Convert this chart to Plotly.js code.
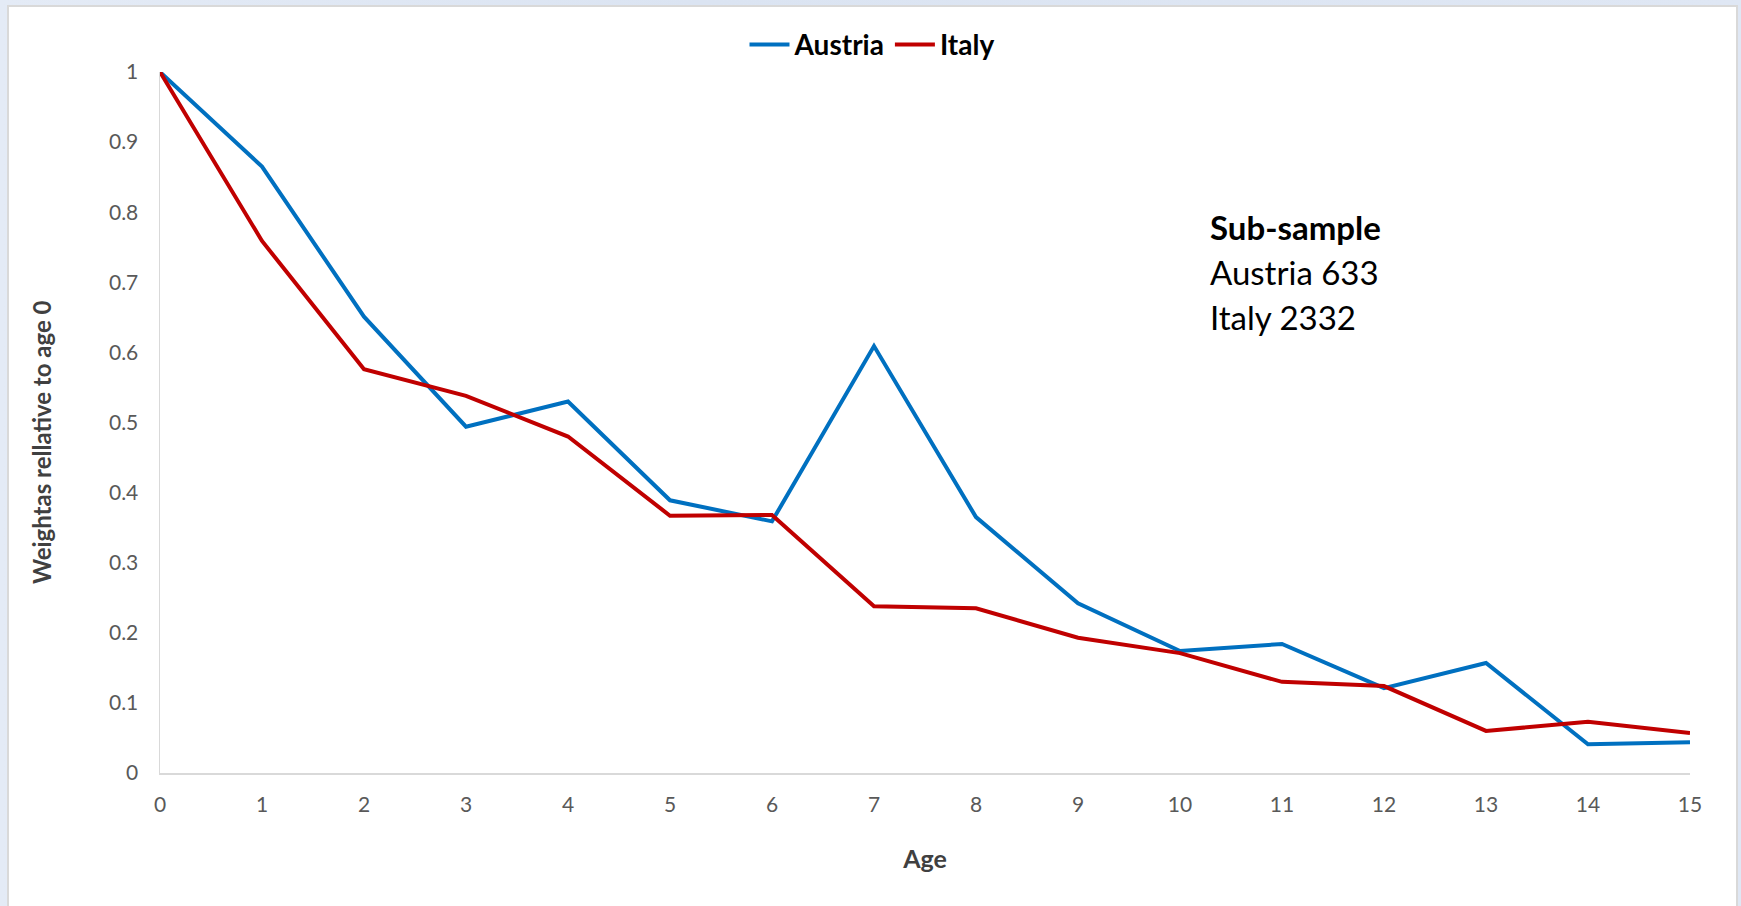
<!DOCTYPE html>
<html>
<head>
<meta charset="utf-8">
<script src="https://cdn.plot.ly/plotly-3.0.1.min.js"></script>
<style>
  html, body { margin: 0; padding: 0; width: 1741px; height: 906px; overflow: hidden;
    background: linear-gradient(90deg, #e4ebf6 0%, #dbe4f2 40%, #dfe7f4 100%); }
  #card { position: absolute; left: 7px; top: 5px; width: 1727px; height: 920px;
    border: 2px solid #d9d9d9; background: #ffffff; }
  #chart { position: absolute; left: 9px; top: 7px; width: 1726px; height: 899px; }
</style>
</head>
<body>
<div id="card"></div>
<div id="chart"></div>
<script>
const ages = [0, 1, 2, 3, 4, 5, 6, 7, 8, 9, 10, 11, 12, 13, 14, 15];
const austria = [1, 0.865, 0.651, 0.494, 0.530, 0.389, 0.359, 0.609, 0.365, 0.242, 0.174, 0.184, 0.121, 0.157, 0.041, 0.044];
const italy = [1, 0.759, 0.576, 0.538, 0.480, 0.367, 0.368, 0.238, 0.235, 0.193, 0.171, 0.130, 0.124, 0.060, 0.073, 0.057];
const seriesNames = ["Austria", "Italy"];
const noteLines = ["<b>Sub-sample</b>", "Austria 633", "Italy 2332"];
const xTitle = "Age";
const yTitle = "Weightas rellative to age 0";

const FONT = "Lato, 'Open Sans', 'DejaVu Sans', sans-serif";

const traces = [
  { x: ages, y: austria, name: seriesNames[0], type: "scatter", mode: "lines",
    line: { color: "#0070C0", width: 4 }, cliponaxis: false },
  { x: ages, y: italy, name: seriesNames[1], type: "scatter", mode: "lines",
    line: { color: "#C00000", width: 4 }, cliponaxis: false }
];

const noteY = [0.779, 0.715, 0.651];
const annotations = noteLines.map((t, i) => ({
  text: t, xref: "paper", yref: "paper", x: 0.685, y: noteY[i],
  xanchor: "left", yanchor: "middle", showarrow: false, align: "left",
  font: { family: FONT, size: 33, color: "#000000" }
}));
annotations.push({
  text: "<b>" + yTitle + "</b>", xref: "paper", yref: "paper",
  x: -0.0778, y: 0.472, xanchor: "center", yanchor: "middle", textangle: -90,
  showarrow: false, font: { family: FONT, size: 24, color: "#404040" }
});

const layout = {
  width: 1726, height: 899,
  margin: { l: 151, r: 45, t: 65, b: 133 },
  paper_bgcolor: "#ffffff", plot_bgcolor: "#ffffff",
  font: { family: FONT, color: "#595959" },
  showlegend: true,
  legend: { orientation: "h", xref: "container", yref: "container",
    x: 0.5, xanchor: "center", y: 0.958, yanchor: "middle",
    font: { family: FONT, size: 28, color: "#000000", weight: "bold" },
    itemwidth: 40, tracegroupgap: 0 },
  xaxis: {
    range: [0, 15], tickmode: "array", tickvals: ages, ticktext: ages.map(String),
    showgrid: false, zeroline: false, showline: true, linecolor: "#d9d9d9", linewidth: 1.5,
    ticks: "", ticklabelstandoff: 12,
    tickfont: { family: FONT, size: 21, color: "#595959" },
    title: { text: "<b>" + xTitle + "</b>", font: { family: FONT, size: 25, color: "#404040" }, standoff: 36 }
  },
  yaxis: {
    range: [0, 1], dtick: 0.1, tick0: 0,
    showgrid: false, zeroline: false, showline: true, linecolor: "#d9d9d9", linewidth: 1.5,
    ticks: "", ticklabelstandoff: 16,
    tickfont: { family: FONT, size: 21, color: "#595959" }
  },
  annotations: annotations
};

Plotly.newPlot("chart", traces, layout, { displayModeBar: false, staticPlot: true });
</script>
</body>
</html>
